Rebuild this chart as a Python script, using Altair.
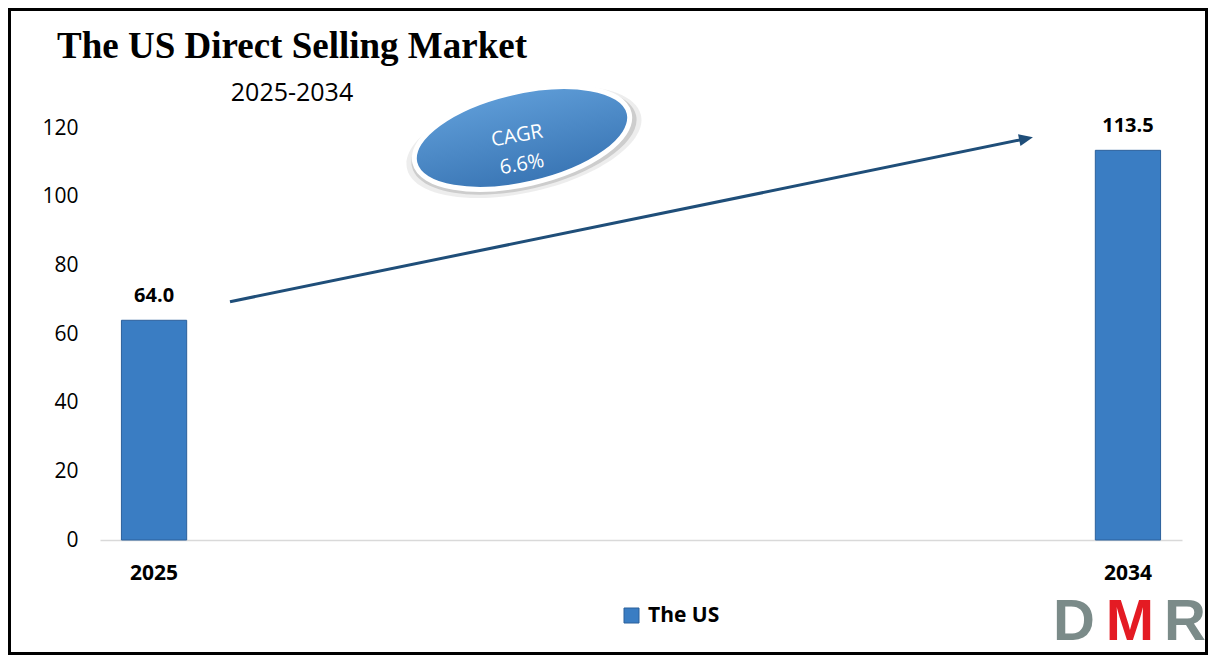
import altair as alt
import pandas as pd

# ---- data ----
years = ["2025", "2034"]
values = [64.0, 113.5]
series = ["The US", "The US"]
y_ticks = [0, 20, 40, 60, 80, 100, 120]
title_text = ["The US Direct Selling Market"]
subtitle_text = ["2025-2034"]
cagr_lines = ["CAGR", "6.6%"]
logo_letters = ["D", "M", "R"]

bars_df = pd.DataFrame({"year": years, "value": values, "series": series})
bars_df["label"] = [f"{v:.1f}" for v in values]

BAR = "#3a7dc3"
BAR_EDGE = "#2b609b"
ARROW = "#1f4e79"
LOGO_GRAY = "#7b8b89"
LOGO_RED = "#e41b23"

one = pd.DataFrame({"k": [0]})

x_enc = alt.X(
    "year:N", sort=years,
    scale=alt.Scale(paddingInner=0.933, paddingOuter=0.022),
    axis=alt.Axis(title=None, labelAngle=0, labelFont="Open Sans", labelFontSize=21,
                  labelFontWeight="bold", labelColor="black", labelPadding=22,
                  ticks=False, domainColor="#d9d9d9", domainWidth=1.5),
)
y_enc = alt.Y(
    "value:Q",
    scale=alt.Scale(domain=[0, 120], nice=False),
    axis=alt.Axis(title=None, values=y_ticks, grid=False, domain=False, ticks=False,
                  labelPadding=22, labelFont="Open Sans", labelFontSize=21,
                  labelColor="black"),
)

bars = alt.Chart(bars_df).mark_bar(stroke=BAR_EDGE, strokeWidth=1).encode(
    x=x_enc,
    y=y_enc,
    color=alt.Color(
        "series:N",
        scale=alt.Scale(domain=["The US"], range=[BAR]),
        legend=alt.Legend(title=None, orient="none", legendX=521, legendY=477,
                          symbolType="square", symbolSize=225, labelFont="Open Sans",
                          labelFontSize=21, labelFontWeight="bold", labelColor="black",
                          labelOffset=6, padding=0, symbolStrokeColor=BAR_EDGE,
                          symbolStrokeWidth=1),
    ),
)

bar_labels = alt.Chart(bars_df).mark_text(
    dy=-24, baseline="middle", font="Open Sans", fontSize=20, fontWeight="bold", color="black"
).encode(x=alt.X("year:N", sort=years), y="value:Q", text="label:N")

title = alt.Chart(pd.DataFrame({"t": title_text})).mark_text(
    align="left", baseline="alphabetic", font="Liberation Serif", fontSize=37,
    fontWeight="bold", color="black"
).encode(x=alt.value(-43), y=alt.value(-70), text="t:N")

subtitle = alt.Chart(pd.DataFrame({"t": subtitle_text})).mark_text(
    align="center", baseline="alphabetic", font="Open Sans", fontSize=25, color="black"
).encode(x=alt.value(192), y=alt.value(-27), text="t:N")

ELL = "M -1 0 A 1 0.42 0 1 1 1 0 A 1 0.42 0 1 1 -1 0 Z"
ell_shadow2 = alt.Chart(one).mark_point(
    shape=ELL, size=57600, angle=347, filled=True, color="#d6d6d6", opacity=0.45
).encode(x=alt.value(424), y=alt.value(14))
ell_shadow = alt.Chart(one).mark_point(
    shape=ELL, size=52900, angle=347, filled=True, color="#b8b8b8", opacity=0.6
).encode(x=alt.value(424), y=alt.value(13))
ellipse = alt.Chart(one).mark_point(
    shape=ELL, size=48400, angle=347, filled=True, opacity=1,
    fill={"gradient": "linear", "x1": 0, "y1": 0, "x2": 0, "y2": 1,
          "stops": [{"offset": 0, "color": "#5d9bd6"}, {"offset": 1, "color": "#3a76b5"}]},
    stroke="white", strokeWidth=5,
).encode(x=alt.value(422), y=alt.value(10))

cagr = alt.Chart(pd.DataFrame({"t": ["\n".join(cagr_lines)]})).mark_text(
    align="center", baseline="middle", font="Open Sans", fontSize=20, color="white",
    lineBreak="\n", lineHeight=29, angle=350
).encode(x=alt.value(417), y=alt.value(8), text="t:N")

arrow_line = alt.Chart(one).mark_rule(color=ARROW, strokeWidth=3).encode(
    x=alt.value(130), y=alt.value(173.7), x2=alt.value(926), y2=alt.value(10.7)
)
arrow_head = alt.Chart(one).mark_point(
    shape="M 1 0 L -1 -0.85 L -1 0.85 Z", size=196, angle=348.4, filled=True,
    color=ARROW, opacity=1
).encode(x=alt.value(926.1), y=alt.value(10.7))

border = alt.Chart(one).mark_rect(fillOpacity=0, stroke="black", strokeWidth=3).encode(
    x=alt.value(-90.5), x2=alt.value(1106.5), y=alt.value(-118.5), y2=alt.value(525.5)
)

logo_d = alt.Chart(pd.DataFrame({"t": [logo_letters[0]]})).mark_text(
    align="center", baseline="alphabetic", font="Liberation Sans", fontSize=58,
    fontWeight="bold", color=LOGO_GRAY
).encode(x=alt.value(974), y=alt.value(512), text="t:N")
logo_m = alt.Chart(pd.DataFrame({"t": [logo_letters[1]]})).mark_text(
    align="center", baseline="alphabetic", font="Liberation Sans", fontSize=58,
    fontWeight="bold", color=LOGO_RED
).encode(x=alt.value(1030), y=alt.value(512), text="t:N")
logo_r = alt.Chart(pd.DataFrame({"t": [logo_letters[2]]})).mark_text(
    align="center", baseline="alphabetic", font="Liberation Sans", fontSize=58,
    fontWeight="bold", color=LOGO_GRAY
).encode(x=alt.value(1085), y=alt.value(512), text="t:N")

chart = alt.layer(
    bars, bar_labels, arrow_line, arrow_head,
    ell_shadow2, ell_shadow, ellipse, cagr,
    title, subtitle, logo_d, logo_m, logo_r, border,
).properties(
    width=1082, height=412,
    padding={"left": 92, "top": 120, "right": 26, "bottom": 115},
    autosize=alt.AutoSizeParams(type="none"),
    background="white",
).configure_view(strokeWidth=0)

chart.save("out.html", embed_options={"renderer": "svg", "actions": False})
